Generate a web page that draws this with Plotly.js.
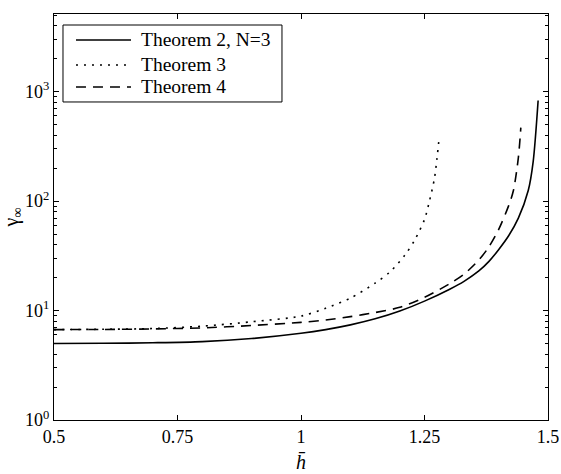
<!DOCTYPE html>
<html><head><meta charset="utf-8">
<script src="https://cdn.plot.ly/plotly-3.0.1.min.js"></script>
<style>body{margin:0;background:#fff}#chart{width:561px;height:474px}</style>
</head><body><div id="chart"></div>
<script>
const h2 = [0.5, 0.6, 0.7, 0.8, 0.9, 1.0, 1.05, 1.1, 1.15, 1.2, 1.25, 1.3, 1.33, 1.36, 1.38, 1.40, 1.42, 1.44, 1.46, 1.47, 1.48];
const v2 = [5.0, 5.02, 5.08, 5.2, 5.55, 6.2, 6.7, 7.4, 8.4, 9.9, 12.2, 15.6, 18.5, 23, 28, 36, 48, 70, 125, 230, 830];
const h3 = [0.5, 0.6, 0.7, 0.8, 0.9, 1.0, 1.05, 1.1, 1.15, 1.18, 1.21, 1.23, 1.25, 1.26, 1.27, 1.275, 1.28];
const v3 = [6.7, 6.75, 6.85, 7.2, 7.9, 8.9, 10.5, 13.0, 17.8, 22.5, 32, 44, 68, 100, 160, 240, 390];
const h4 = [0.5, 0.6, 0.7, 0.8, 0.9, 1.0, 1.05, 1.1, 1.15, 1.2, 1.25, 1.3, 1.33, 1.36, 1.38, 1.40, 1.42, 1.43, 1.44, 1.445];
const v4 = [6.7, 6.72, 6.8, 6.95, 7.3, 7.8, 8.2, 8.8, 9.6, 10.7, 13.2, 17.5, 21.5, 29, 38, 55, 90, 125, 250, 470];
const names = ["Theorem 2, N=3", "Theorem 3", "Theorem 4"];
const xTickVals = [0.5, 0.75, 1, 1.25, 1.5];
const xTickText = ["0.5", "0.75", "1", "1.25", "1.5"];
const yTickVals = [1, 10, 100, 1000];
const yTickText = ["10<sup>0</sup>", "10<sup>1</sup>", "10<sup>2</sup>", "10<sup>3</sup>"];

const minorY = [];
for (let d = 0; d < 4; d++) for (let k = 2; k <= 9; k++) minorY.push(k * Math.pow(10, d));

const FAM = "Liberation Serif";
function f(size) { return {family: FAM, size: size, color: "#000"}; }
const dashes = ["solid", "2px,6px", "10px,7px"];
const traces = [[h2, v2], [h3, v3], [h4, v4]].map((d, i) => ({
  x: d[0], y: d[1], name: names[i], mode: "lines",
  line: {color: "#000", width: 1.6, dash: dashes[i], shape: "spline", smoothing: 0.8}
}));

// legend drawn as a boxed key inside the plot (matching the reference's proportions)
const rowsY = [0.936, 0.8744, 0.8202];
const shapes = [{type: "rect", xref: "paper", yref: "paper", x0: 0.0182, x1: 0.4615, y0: 0.7833, y1: 0.9729,
                 line: {color: "#000", width: 1}, fillcolor: "#fff", layer: "above"}];
const annotations = [];
names.forEach((n, i) => {
  shapes.push({type: "line", xref: "paper", yref: "paper", x0: 0.0445, x1: 0.1559, y0: rowsY[i], y1: rowsY[i],
               line: {color: "#000", width: 1.6, dash: dashes[i]}, layer: "above"});
  annotations.push({xref: "paper", yref: "paper", x: 0.1721, y: rowsY[i], xanchor: "left", yanchor: "middle",
                    showarrow: false, text: n, font: f(19.5)});
});

const layout = {
  width: 561, height: 474,
  margin: {l: 54, r: 13, t: 14, b: 54},
  paper_bgcolor: "#fff", plot_bgcolor: "#fff",
  font: f(18),
  showlegend: false,
  shapes: shapes, annotations: annotations,
  xaxis: {range: [0.5, 1.5], tickmode: "array", tickvals: xTickVals, ticktext: xTickText, tickfont: f(18),
          ticks: "inside", ticklen: 5, tickcolor: "#000", showline: true, linecolor: "#000", linewidth: 1,
          mirror: "ticks", showgrid: false, zeroline: false,
          title: {text: "<i>h̄</i>", font: f(20), standoff: 9}},
  yaxis: {type: "log", range: [0, 3.71], tickmode: "array", tickvals: yTickVals, ticktext: yTickText, tickfont: f(18),
          ticks: "inside", ticklen: 5, tickcolor: "#000", showline: true, linecolor: "#000", linewidth: 1,
          mirror: "ticks", showgrid: false, zeroline: false,
          minor: {tickvals: minorY, ticks: "inside", ticklen: 3, tickcolor: "#000", showgrid: false},
          title: {text: "γ<sub>∞</sub>", font: f(20), standoff: 2}}
};
Plotly.newPlot("chart", traces, layout, {displayModeBar: false, staticPlot: true});
</script></body></html>
